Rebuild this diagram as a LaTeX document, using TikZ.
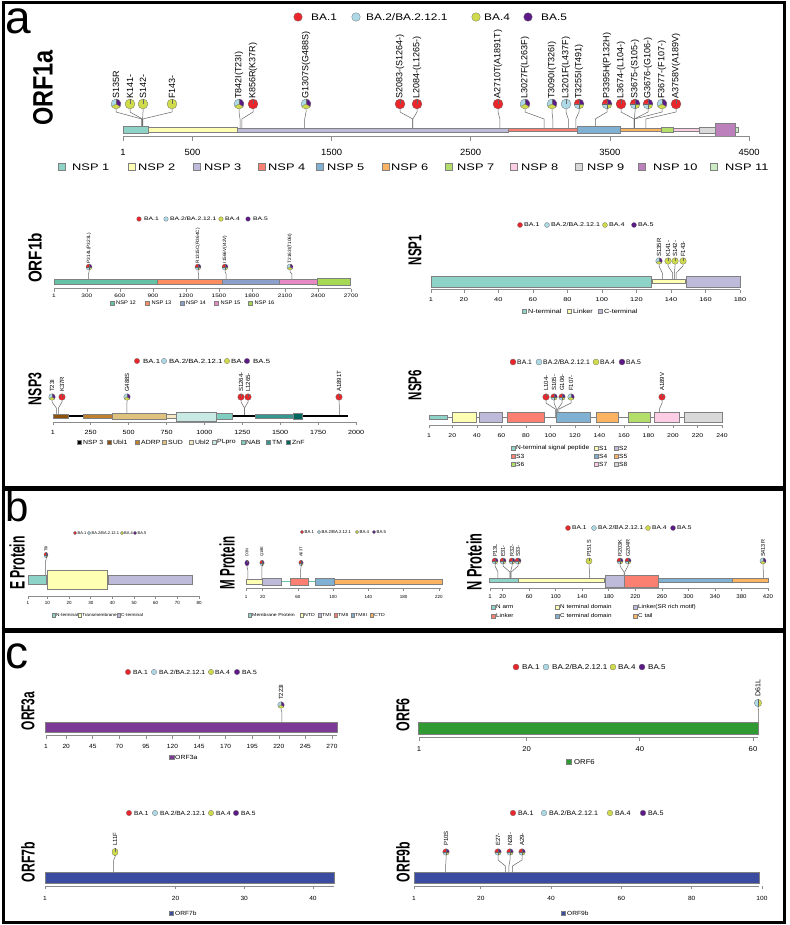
\documentclass[tikz,border=0pt]{standalone}
\usepackage{fontspec}
\setmainfont{Liberation Sans}
\usepackage{graphicx}
\definecolor{cR}{HTML}{E8262B}
\definecolor{cB}{HTML}{ADD8E6}
\definecolor{cY}{HTML}{CFDB4A}
\definecolor{cP}{HTML}{5C1A87}
\definecolor{s1}{HTML}{8DD3C7}
\definecolor{s2}{HTML}{FFFFB3}
\definecolor{s3}{HTML}{BEBADA}
\definecolor{s4}{HTML}{FB8072}
\definecolor{s5}{HTML}{80B1D3}
\definecolor{s6}{HTML}{FDB462}
\definecolor{s7}{HTML}{B3DE69}
\definecolor{s8}{HTML}{FCCDE5}
\definecolor{s9}{HTML}{D9D9D9}
\definecolor{s10}{HTML}{BC80BD}
\definecolor{s11}{HTML}{CCEBC5}
\definecolor{t1}{HTML}{66C2A5}
\definecolor{t2}{HTML}{FC8D62}
\definecolor{t3}{HTML}{8DA0CB}
\definecolor{t4}{HTML}{E78AC3}
\definecolor{t5}{HTML}{A6D854}
\definecolor{b1}{HTML}{8C510A}
\definecolor{b2}{HTML}{BF812D}
\definecolor{b3}{HTML}{DFC27D}
\definecolor{b4}{HTML}{F6E8C3}
\definecolor{b5}{HTML}{C7EAE5}
\definecolor{b6}{HTML}{80CDC1}
\definecolor{b7}{HTML}{35978F}
\definecolor{b8}{HTML}{01665E}
\definecolor{o3a}{HTML}{7B3A96}
\definecolor{o6}{HTML}{2F9A32}
\definecolor{o7}{HTML}{3B4BA0}
\def\wsx{1}
\newcommand{\Wd}[1]{\scalebox{\wsx}[1]{#1}}
\newcommand{\psl}[3]{\fill[#3] (0,0) -- (#1:\pr) arc[start angle=#1,end angle=#2,radius=\pr] -- cycle;}
\newcommand{\psr}[1]{\draw[pedge] (0,0) -- (#1:\pr);}
\newcommand{\pieR}{\fill[cR] (0,0) circle[radius=\pr];\psr{90}}
\newcommand{\pieB}{\fill[cB] (0,0) circle[radius=\pr];\psr{90}}
\newcommand{\pieY}{\fill[cY] (0,0) circle[radius=\pr];\psr{90}}
\newcommand{\pieP}{\fill[cP] (0,0) circle[radius=\pr];\psr{90}}
\newcommand{\pieBY}{\psl{90}{270}{cB}\psl{270}{450}{cY}\psr{90}\psr{270}}
\newcommand{\pieBYP}{\psl{90}{210}{cB}\psl{210}{330}{cY}\psl{330}{450}{cP}\psr{90}\psr{210}\psr{330}}
\newcommand{\pieRBYP}{\psl{90}{180}{cR}\psl{180}{270}{cB}\psl{270}{360}{cY}\psl{0}{90}{cP}\psr{0}\psr{90}\psr{180}\psr{270}}
\newcommand{\lp}[3]{\begin{scope}[shift={(#1,#2)},yscale=\pys]\csname pie#3\endcsname\draw[pedge] (0,0) circle[radius=\pr];\end{scope}}
\newcommand{\lol}[4]{\pgfmathsetmacro\pxx{\xO+(#2-1)*\xS}%
  \draw[stemline] (#1,\yA) -- (#1,\yB) -- (\pxx,\yC) -- (\pxx,\yD);%
  \lp{#1}{\yc}{#3}%
  \node[mt,rotate=90,anchor=west,inner sep=0pt] at (#1,\yL) {#4};}
\newcommand{\axt}[4]{\foreach \v in {#4}{\pgfmathsetmacro\axx{\xO+(\v-1)*\xS}\draw[axl] (\axx,#1) -- (\axx,#2);\node[tk,inner sep=0pt] at (\axx,#3) {\Wd{\v}};}}
\newcommand{\leg}[6]{\draw[sqedge,fill=#5] ({#1},{#3-#4/2}) rectangle ({#1+#4},{#3+#4/2});\node[lt,anchor=west,inner sep=0pt] at (#2,#3) {\Wd{#6}};}
\newcommand{\bal}[6]{\fill[#5] (#1,#3) circle[radius=#4pt];\draw[pedge] (#1,#3) circle[radius=#4pt];\node[lt,anchor=west,inner sep=0pt] at (#2,#3) {\Wd{#6}};}
\newcommand{\balegend}[9]{\pgfmathsetmacro\tfour{#9+#4-#3}%
  \bal{#3}{#4}{#1}{#2}{cR}{BA.1}\bal{#5}{#6}{#1}{#2}{cB}{BA.2/BA.2.12.1}\bal{#7}{#8}{#1}{#2}{cY}{BA.4}\bal{#9}{\tfour}{#1}{#2}{cP}{BA.5}}
\newcommand{\ttl}[5]{\node[rotate=90,inner sep=0pt] at (#1,#2) {\scalebox{#3}[1]{\fontsize{#4}{#4}\selectfont\bfseries #5}};}
\newcommand{\bx}[5]{\draw[boxe,fill=#5] (#1,#3) rectangle (#2,#4);}
\begin{document}
\begin{tikzpicture}[x=1pt,y=-1pt,
  stemline/.style={draw=black!60,line width=0.5pt},
  pedge/.style={draw=black!60,line width=0.25pt},
  axl/.style={draw=black!45,line width=0.6pt},
  boxe/.style={draw=black!50,line width=0.4pt},
  sqedge/.style={draw=black!50,line width=0.3pt},
  pframe/.style={draw=black,line width=3pt},
  letter/.style={anchor=base west,inner sep=0pt,text depth=0pt},
  tk/.style={font=\fontsize{9}{9}\selectfont},
  lt/.style={font=\fontsize{9}{9}\selectfont},
  mt/.style={font=\fontsize{9}{9}\selectfont}]
\useasboundingbox (0,0) rectangle (789,925);
\fill[white] (0,0) rectangle (789,925);
% ================= PANEL A =================
\node[letter,text height=24pt,font=\fontsize{46}{46}\selectfont] (la) at (5.5,34) {a};
% ---- ORF1a
\tikzset{lt/.style={font=\fontsize{9.5}{9.5}\selectfont}}\def\wsx{1.25}
\balegend{17}{4.3}{298}{311}{356}{366}{476}{484}{528}
\ttl{43}{88}{0.84}{28}{ORF1a}
\def\xO{123}\def\xS{0.13914}\def\yc{104}\def\pr{5pt}\def\pys{1}
\def\yA{109}\def\yB{112}\def\yC{119}\def\yD{130}\def\yL{99}
\tikzset{mt/.style={font=\fontsize{9}{9}\selectfont}}
\lol{116}{135}{BYP}{S135R}
\lol{130}{141}{Y}{K141-}
\lol{143}{142}{Y}{S142-}
\lol{172}{143}{Y}{F143-}
\lol{239}{842}{BYP}{T842I(T23I)}
\lol{253}{856}{R}{K856R(K37R)}
\lol{306}{1307}{BYP}{G1307S(G488S)}
\lol{400}{2083}{R}{S2083-(S1264-)}
\lol{417}{2084}{R}{L2084-(L1265-)}
\lol{498}{2710}{R}{A2710T(A1891T)}
\lol{525}{3027}{BYP}{L3027F(L263F)}
\lol{552}{3090}{BYP}{T3090I(T326I)}
\lol{566}{3201}{B}{L3201F(L437F)}
\lol{579}{3255}{RBYP}{T3255I(T491)}
\lol{607}{3395}{RBYP}{P3395H(P132H)}
\lol{621}{3674}{R}{L3674-(L104-)}
\lol{635}{3675}{RBYP}{S3675-(S105-)}
\lol{648}{3676}{RBYP}{G3676-(G106-)}
\lol{662}{3677}{BYP}{F3677-(F107-)}
\lol{676}{3758}{R}{A3758V(A189V)}
\bx{123}{148}{126}{133}{s1}
\bx{148}{237}{127}{132}{s2}
\bx{237}{508}{128}{132}{s3}
\bx{508}{577}{128}{131}{s4}
\bx{577}{620}{126}{133}{s5}
\bx{620}{661}{128}{131}{s6}
\bx{661}{673}{127}{132}{s7}
\bx{673}{699}{128}{131}{s8}
\bx{699}{715}{127}{133}{s9}
\bx{715}{735}{123}{136}{s10}
\bx{735}{738}{127}{132}{s11}
\draw[axl] (123,136.5) -- (749,136.5);
\tikzset{tk/.style={font=\fontsize{9}{9}\selectfont}}\def\wsx{1.05}
\axt{136.5}{141}{152}{1,500,1500,2500,3500,4500}
\tikzset{lt/.style={font=\fontsize{9.5}{9.5}\selectfont}}\def\wsx{1.35}
\leg{58}{72}{167}{7}{s1}{NSP 1}
\leg{128}{138}{167}{7}{s2}{NSP 2}
\leg{193}{204}{167}{7}{s3}{NSP 3}
\leg{258}{268}{167}{7}{s4}{NSP 4}
\leg{316}{327}{167}{7}{s5}{NSP 5}
\leg{382}{391}{167}{7}{s6}{NSP 6}
\leg{445}{457}{167}{7}{s7}{NSP 7}
\leg{510}{521}{167}{7}{s8}{NSP 8}
\leg{575}{587}{167}{7}{s9}{NSP 9}
\leg{638}{653}{167}{7}{s10}{NSP 10}
\leg{710}{725}{167}{7}{s11}{NSP 11}
% ---- ORF1b
\tikzset{lt/.style={font=\fontsize{5}{5}\selectfont}}\def\wsx{1.35}
\balegend{219}{2.3}{139}{144}{166}{170}{221}{225}{248}
\ttl{35}{258}{0.82}{18.6}{ORF1b}
\def\xO{54}\def\xS{0.11004}\def\yc{267}\def\pr{3pt}\def\pys{1}
\def\yA{270}\def\yB{272}\def\yC{274}\def\yD{281}\def\yL{263.5}
\tikzset{mt/.style={font=\fontsize{4.7}{4.7}\selectfont}}
\lol{89}{314}{RBYP}{P314L(P323L)}
\lol{198}{1315}{RBYP}{R1315C(R364C)}
\lol{225}{1566}{RBYP}{I1566V(I42V)}
\lol{290}{2163}{BYP}{T2163I(T106I)}
\bx{54}{157}{279}{284}{t1}
\bx{157}{222}{279}{284}{t2}
\bx{222}{279}{279}{284}{t3}
\bx{279}{317}{279}{284}{t4}
\bx{317}{350}{277.7}{285}{t5}
\draw[axl] (54,288.5) -- (351,288.5);
\tikzset{tk/.style={font=\fontsize{5}{5}\selectfont}}\def\wsx{1.3}
\axt{288.5}{291.5}{295.5}{1,300,600,900,1200,1500,1800,2100,2400,2700}
\tikzset{lt/.style={font=\fontsize{5.2}{5.2}\selectfont}}\def\wsx{1.1}
\leg{110.5}{116}{303}{4}{t1}{NSP 12}
\leg{145.5}{151.5}{303}{4}{t2}{NSP 13}
\leg{180}{186}{303}{4}{t3}{NSP 14}
\leg{214.5}{220.5}{303}{4}{t4}{NSP 15}
\leg{248.5}{254.5}{303}{4}{t5}{NSP 16}
% ---- NSP1
\tikzset{lt/.style={font=\fontsize{5.5}{5.5}\selectfont}}\def\wsx{1.3}
\balegend{225}{2.5}{520}{524}{547}{551}{605}{609}{634}
\ttl{415}{250}{0.62}{18.6}{NSP1}
\def\xO{431}\def\xS{1.7263}\def\yc{261}\def\pr{3.3pt}\def\pys{1}
\def\yA{264.3}\def\yB{266}\def\yC{273}\def\yD{281}\def\yL{257}
\tikzset{mt/.style={font=\fontsize{6}{6}\selectfont}}
\lol{659}{135}{BYP}{S135R}
\lol{668}{141}{Y}{K141-}
\lol{675}{142}{Y}{S142-}
\lol{683}{143}{Y}{F143-}
\bx{431}{651}{276}{287}{s1}
\bx{652}{685}{279}{283}{s2}
\bx{686}{740}{276}{287}{s3}
\draw[axl] (431,289.5) -- (740,289.5);
\tikzset{tk/.style={font=\fontsize{5.5}{5.5}\selectfont}}\def\wsx{1.35}
\axt{289.5}{293}{299.3}{1,20,40,60,80,100,120,140,160,180}
\tikzset{lt/.style={font=\fontsize{6}{6}\selectfont}}\def\wsx{1.2}
\leg{522}{528}{311}{4.5}{s1}{N-terminal}
\leg{567}{573}{311}{4.5}{s2}{Linker}
\leg{598}{604}{311}{4.5}{s3}{C-terminal}
% ---- NSP3
\tikzset{lt/.style={font=\fontsize{6}{6}\selectfont}}\def\wsx{1.3}
\balegend{361}{2.7}{137}{143}{164}{169}{227}{231}{247}
\ttl{35}{389}{0.66}{18.6}{NSP3}
\def\xO{53}\def\xS{0.15158}\def\yc{397}\def\pr{3.3pt}\def\pys{1}
\def\yA{400.3}\def\yB{402}\def\yC{408}\def\yD{416}\def\yL{392}
\tikzset{mt/.style={font=\fontsize{6}{6}\selectfont}}
\lol{52}{23}{BYP}{T23I}
\lol{62}{37}{R}{K37R}
\lol{127}{488}{BYP}{G488S}
\lol{241}{1264}{R}{S1264-}
\lol{248}{1265}{R}{L1265-}
\lol{339}{1891}{R}{A1891T}
\draw[black,line width=2.5pt] (53,416) -- (348,416);
\bx{53}{68}{413.7}{418.3}{b1}
\bx{83}{112}{414}{418.3}{b2}
\bx{112}{166}{412.7}{419.3}{b3}
\bx{166}{176}{413.7}{418.3}{b4}
\bx{176}{216}{411.7}{420.7}{b5}
\bx{216}{232}{412.7}{419.3}{b6}
\bx{255}{293}{413.7}{418.3}{b7}
\bx{293}{302}{412.7}{419.3}{b8}
\draw[axl] (53,422) -- (356,422);
\tikzset{tk/.style={font=\fontsize{6}{6}\selectfont}}\def\wsx{1.2}
\axt{422}{425}{432}{1,250,500,750,1000,1250,1500,1750,2000}
\tikzset{lt/.style={font=\fontsize{6}{6}\selectfont}}\def\wsx{1.15}
\leg{77}{83}{442}{4}{black}{NSP 3}
\leg{107}{113}{442}{4}{b1}{Ubl1}
\leg{135}{141}{442}{4}{b2}{ADRP}
\leg{162}{168}{442}{4}{b3}{SUD}
\leg{189}{195}{442}{4}{b4}{Ubl2}
\leg{212}{217}{442}{4}{b5}{PLpro}
\leg{241}{246}{442}{4}{b6}{NAB}
\leg{266}{272}{442}{4}{b7}{TM}
\leg{286}{292}{442}{4}{b8}{ZnF}
% ---- NSP6
\tikzset{lt/.style={font=\fontsize{6.5}{6.5}\selectfont}}\def\wsx{1.05}
\balegend{362}{3}{513}{517}{539}{543}{596}{600}{622}
\ttl{415}{385}{0.62}{18.6}{NSP6}
\def\xO{429}\def\xS{1.2259}\def\yc{397}\def\pr{3.3pt}\def\pys{1}
\def\yA{400.3}\def\yB{403}\def\yC{409}\def\yD{418}\def\yL{391}
\tikzset{mt/.style={font=\fontsize{6}{6}\selectfont}}
\lol{546}{104}{R}{L104-}
\lol{554}{105}{RBYP}{S105-}
\lol{562}{106}{RBYP}{G106-}
\lol{571}{107}{BYP}{F107-}
\lol{662}{189}{R}{A189V}
\draw[black!50,line width=0.8pt] (429,417) -- (722,417);
\bx{429}{447}{415}{419}{s1}
\bx{452}{476}{412.3}{422.3}{s2}
\bx{479}{502}{412.3}{422.3}{s3}
\bx{507}{544}{412.3}{422.3}{s4}
\bx{556}{590}{412.3}{422.3}{s5}
\bx{596}{618}{412.3}{422.3}{s6}
\bx{628}{650}{412.3}{422.3}{s7}
\bx{654}{679}{412.3}{422.3}{s8}
\bx{684}{722}{412.3}{422.3}{s9}
\draw[axl] (429,425) -- (722,425);
\tikzset{tk/.style={font=\fontsize{5.5}{5.5}\selectfont}}\def\wsx{1.25}
\axt{425}{428}{436}{1,20,40,60,80,100,120,140,160,180,200,220,240}
\tikzset{lt/.style={font=\fontsize{6}{6}\selectfont}}\def\wsx{1.1}
\leg{511}{516}{448}{4.5}{s1}{N-terminal signal peptide}
\leg{594}{599}{448}{4.5}{s2}{S1}
\leg{614}{619}{448}{4.5}{s3}{S2}
\leg{511}{516}{456}{4.5}{s4}{S3}
\leg{594}{599}{456}{4.5}{s5}{S4}
\leg{614}{619}{456}{4.5}{s6}{S5}
\leg{511}{516}{464}{4.5}{s7}{S6}
\leg{594}{599}{464}{4.5}{s8}{S7}
\leg{614}{619}{464}{4.5}{s9}{S8}
% ================= PANEL B =================
\node[letter,text height=30pt,font=\fontsize{42}{42}\selectfont] (lb) at (5.5,521) {b};
% ---- E protein
\tikzset{lt/.style={font=\fontsize{4}{4}\selectfont}}\def\wsx{1}
\balegend{533}{1.6}{75}{77.5}{89}{91.5}{122}{124}{135}
\ttl{17}{563}{0.58}{21}{E Protein}
\def\xO{28}\def\xS{2.165}\def\yc{555}\def\pr{2pt}\def\pys{1.35}
\def\yA{557.7}\def\yB{560}\def\yC{562}\def\yD{575}\def\yL{552}
\tikzset{mt/.style={font=\fontsize{4}{4}\selectfont}}
\lol{46}{9}{RBYP}{T9I}
\draw[black!50,line width=0.6pt] (28,579.5) -- (192,579.5);
\bx{28}{46}{575}{584}{s1}
\bx{47}{107}{570}{589}{s2}
\bx{108}{192}{575}{584}{s3}
\draw[axl] (28,596) -- (199,596);
\tikzset{tk/.style={font=\fontsize{4.5}{4.5}\selectfont}}\def\wsx{1}
\axt{596}{599}{603}{1,10,20,30,40,50,60,70,80}
\tikzset{lt/.style={font=\fontsize{4.3}{4.3}\selectfont}}\def\wsx{1.1}
\leg{52}{56}{615}{3.5}{s1}{N-terminal}
\leg{78}{82}{615}{3.5}{s2}{Transmembrane}
\leg{117}{121}{615}{3.5}{s3}{C-terminal}
% ---- M protein
\tikzset{lt/.style={font=\fontsize{4.3}{4.3}\selectfont}}\def\wsx{1}
\balegend{532}{1.6}{302}{304.5}{319}{321.5}{357}{359.5}{374}
\ttl{227}{563}{0.55}{21}{M Protein}
\def\xO{246}\def\xS{0.881}\def\yc{563}\def\pr{2.2pt}\def\pys{1.3}
\def\yA{565.9}\def\yB{567}\def\yC{570}\def\yD{579}\def\yL{557}
\tikzset{mt/.style={font=\fontsize{4}{4}\selectfont}}
\lol{247}{3}{P}{D3N}
\lol{262}{19}{RBYP}{Q19E}
\lol{301}{63}{RBYP}{A63T}
\draw[t1,line width=1.2pt] (246,581.5) -- (442,581.5);
\bx{246}{262}{579}{584}{s2}
\bx{262}{281}{578}{585}{s3}
\bx{290}{308}{578}{585}{s4}
\bx{315}{334}{578}{585}{s5}
\bx{334}{442}{579}{584}{s6}
\draw[axl] (246,588) -- (441,588);
\tikzset{tk/.style={font=\fontsize{4.5}{4.5}\selectfont}}\def\wsx{1}
\axt{588}{591}{597}{1,20,60,100,140,180,220}
\tikzset{lt/.style={font=\fontsize{4.3}{4.3}\selectfont}}\def\wsx{1.2}
\leg{248}{252}{615}{3.5}{s1}{Membrane Protein}
\leg{300}{304}{615}{3.5}{s2}{NTD}
\leg{318}{322}{615}{3.5}{s3}{TMI}
\leg{334}{338}{615}{3.5}{s4}{TMII}
\leg{351}{355}{615}{3.5}{s5}{TMIII}
\leg{370}{374}{615}{3.5}{s6}{CTD}
% ---- N protein
\tikzset{lt/.style={font=\fontsize{5.5}{5.5}\selectfont}}\def\wsx{1.2}
\balegend{528}{2.5}{568}{572}{594}{598}{648}{652}{673}
\ttl{474}{562}{0.61}{21}{N Protein}
\def\xO{490}\def\xS{0.6635}\def\yc{561}\def\pr{3.1pt}\def\pys{1}
\def\yA{564.1}\def\yB{566}\def\yC{572}\def\yD{579}\def\yL{557}
\tikzset{mt/.style={font=\fontsize{5.5}{5.5}\selectfont}}
\lol{495}{13}{RBYP}{P13L}
\lol{503}{31}{RBYP}{E31-}
\lol{512}{32}{RBYP}{R32-}
\lol{518}{33}{RBYP}{S33-}
\lol{589}{151}{Y}{P151S}
\lol{620}{203}{RBYP}{R203K}
\lol{628}{204}{RBYP}{G204R}
\lol{763}{413}{BYP}{S413R}
\bx{489}{518}{578.5}{582}{s1}
\bx{518}{604}{578}{582.5}{s2}
\bx{605}{624}{575}{587}{s3}
\bx{624}{658}{575}{587}{s4}
\bx{658}{732}{578}{582.5}{s5}
\bx{732}{768}{578}{582.5}{s6}
\draw[axl] (490,588) -- (768,588);
\tikzset{tk/.style={font=\fontsize{5.5}{5.5}\selectfont}}\def\wsx{1.1}
\axt{588}{591}{597}{1,20,60,100,140,180,220,260,300,340,380,420}
\tikzset{lt/.style={font=\fontsize{5.5}{5.5}\selectfont}}\def\wsx{1.15}
\leg{491}{496}{607}{4}{s1}{N arm}
\leg{555}{560}{607}{4}{s2}{N terminal domain}
\leg{633}{638}{607}{4}{s3}{Linker(SR rich motif)}
\leg{491}{496}{616}{4}{s4}{Linker}
\leg{555}{560}{616}{4}{s5}{C terminal domain}
\leg{633}{638}{616}{4}{s6}{C tail}
% ================= PANEL C =================
\node[letter,text height=24pt,font=\fontsize{46}{46}\selectfont] (lc) at (5.5,668) {c};
% ---- ORF3a
\tikzset{lt/.style={font=\fontsize{6}{6}\selectfont}}\def\wsx{1.12}
\balegend{672}{2.7}{128}{133}{154}{159}{211}{215}{237}
\ttl{28}{711}{0.64}{18.6}{ORF3a}
\def\xO{46}\def\xS{1.063}\def\yc{705}\def\pr{3.3pt}\def\pys{1}
\def\yA{708.3}\def\yB{710}\def\yC{712}\def\yD{723}\def\yL{700}
\tikzset{mt/.style={font=\fontsize{6}{6}\selectfont}}
\lol{281}{223}{BYP}{T223I}
\bx{45}{337}{722}{732}{o3a}
\draw[axl] (46,735.5) -- (337,735.5);
\tikzset{tk/.style={font=\fontsize{6}{6}\selectfont}}\def\wsx{1.1}
\axt{735.5}{738.5}{746}{1,20,45,70,95,120,145,170,195,220,245,270}
\tikzset{lt/.style={font=\fontsize{6}{6}\selectfont}}\def\wsx{1.15}
\leg{169.5}{175}{757}{4.5}{o3a}{ORF3a}
% ---- ORF6
\tikzset{lt/.style={font=\fontsize{7}{7}\selectfont}}\def\wsx{1.15}
\balegend{667}{3}{516}{522}{546}{552}{613}{618}{642}
\ttl{403}{715}{0.67}{18.6}{ORF6}
\def\xO{419}\def\xS{5.661}\def\yc{703}\def\pr{3.7pt}\def\pys{1}
\def\yA{706.7}\def\yB{708}\def\yC{710}\def\yD{723}\def\yL{697}
\tikzset{mt/.style={font=\fontsize{7}{7}\selectfont}}
\lol{758}{61}{BY}{D61L}
\bx{418}{758}{722}{734}{o6}
\draw[axl] (419,737.5) -- (758,737.5);
\tikzset{tk/.style={font=\fontsize{7}{7}\selectfont}}\def\wsx{1.1}
\axt{737.5}{741}{749}{1,20,40,60}
\tikzset{lt/.style={font=\fontsize{7}{7}\selectfont}}\def\wsx{1.1}
\leg{566}{574}{762}{5}{o6}{ORF6}
% ---- ORF7b
\tikzset{lt/.style={font=\fontsize{6}{6}\selectfont}}\def\wsx{1.1}
\balegend{813}{2.7}{129}{134}{155}{160}{211}{216}{236}
\ttl{28}{862}{0.66}{18.6}{ORF7b}
\def\xO{45}\def\xS{6.87}\def\yc{852}\def\pr{3pt}\def\pys{1.25}
\def\yA{855.8}\def\yB{857}\def\yC{860}\def\yD{873}\def\yL{846}
\tikzset{mt/.style={font=\fontsize{6}{6}\selectfont}}
\lol{115}{11}{Y}{L11F}
\bx{45}{334}{872}{883}{o7}
\draw[axl] (45,886) -- (334,886);
\tikzset{tk/.style={font=\fontsize{6}{6}\selectfont}}\def\wsx{1.1}
\axt{886}{889}{898}{1,20,30,40}
\tikzset{lt/.style={font=\fontsize{6}{6}\selectfont}}\def\wsx{1.1}
\leg{169}{175}{913}{4.5}{o7}{ORF7b}
% ---- ORF9b
\tikzset{lt/.style={font=\fontsize{6.5}{6.5}\selectfont}}\def\wsx{1.1}
\balegend{813}{2.8}{513}{518}{544}{549}{610}{615}{643}
\ttl{403}{862}{0.66}{18.6}{ORF9b}
\def\xO{414}\def\xS{3.515}\def\yc{852}\def\pr{3.3pt}\def\pys{1}
\def\yA{855.3}\def\yB{860}\def\yC{866}\def\yD{873}\def\yL{846}
\tikzset{mt/.style={font=\fontsize{6}{6}\selectfont}}
\lol{446}{10}{RBYP}{P10S}
\lol{498}{27}{RBYP}{E27-}
\lol{510}{28}{RBYP}{N28-}
\lol{522}{29}{RBYP}{A29-}
\bx{414}{759}{872}{883}{o7}
\draw[axl] (414,886) -- (759,886);
\tikzset{tk/.style={font=\fontsize{6}{6}\selectfont}}\def\wsx{1.1}
\axt{886}{889}{898}{1,20,40,60,80,100}
\tikzset{lt/.style={font=\fontsize{6}{6}\selectfont}}\def\wsx{1.1}
\leg{561}{567}{913}{4.5}{o7}{ORF9b}
% ================= FRAMES =================
\draw[pframe] (3,3) rectangle (784,487);
\draw[pframe] (3,489) rectangle (784,629);
\draw[pframe] (3,631) rectangle (784,922);
\end{tikzpicture}
\end{document}
